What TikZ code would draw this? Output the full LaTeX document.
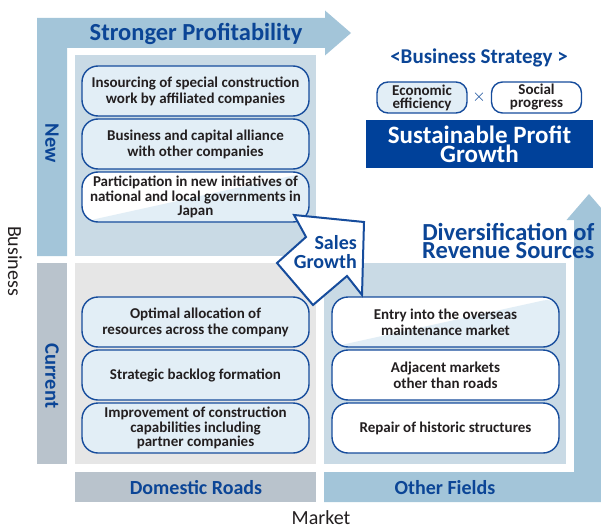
\documentclass[tikz,border=0pt]{standalone}
\usepackage{fontspec}
\setmainfont{Carlito}
\usetikzlibrary{positioning}
\definecolor{arrowblue}{HTML}{A3C5D9}
\definecolor{quadblue}{HTML}{C9DAE5}
\definecolor{graybar}{HTML}{B9C3CC}
\definecolor{quadgray}{HTML}{E6E6E6}
\definecolor{boxfill}{HTML}{E2EEF6}
\definecolor{darkblue}{HTML}{00419A}
\definecolor{titleblue}{HTML}{0B4596}
\definecolor{borderblue}{HTML}{164C9C}
\definecolor{textdark}{HTML}{231F20}
\tikzset{
  itembox/.style={rectangle, rounded corners=16pt, draw=borderblue, line width=1.4pt,
    fill=boxfill, minimum width=227pt, minimum height=50pt, inner sep=0pt, align=center,
    text=textdark, font=\bfseries\fontsize{15}{16}\selectfont},
  itemthree/.style={itembox, font=\bfseries\fontsize{15}{14.5}\selectfont},
  whitebox/.style={fill=white},
  splitbox/.style={fill=white, path picture={\fill[boxfill] (path picture bounding box.south west) -- (path picture bounding box.north east) -- (path picture bounding box.south east) -- cycle;}},
  bluetitle/.style={text=titleblue, font=\bfseries\fontsize{24.5}{18}\selectfont, inner sep=0pt, align=center},
  sidelabel/.style={text=titleblue, font=\bfseries\fontsize{20.5}{20}\selectfont, inner sep=0pt, rotate=-90},
  barlabel/.style={text=titleblue, font=\bfseries\fontsize{20}{20}\selectfont, inner sep=0pt},
  axislabel/.style={text=textdark, font=\fontsize{20}{20}\selectfont, inner sep=0pt},
  pill/.style={rectangle, rounded corners=11pt, draw=borderblue, line width=1.4pt,
    minimum width=90pt, minimum height=31pt, inner sep=0pt, align=center,
    text=textdark, font=\bfseries\fontsize{15}{13}\selectfont},
}
\begin{document}
\begin{tikzpicture}[x=1pt,y=-1pt]
\useasboundingbox (0,0) rectangle (601,529);
\begin{scope}
\clip (0,0) rectangle (601,529);
% L arrow (Stronger Profitability)
\fill[arrowblue] (37,18) -- (325,18) -- (325,10.5) -- (351,33) -- (325,55.5) -- (325,48) -- (67,48) -- (67,256) -- (37,256) -- cycle;
% right arrow (Diversification)
\fill[arrowblue] (324,472) -- (574,472) -- (574,220) -- (566.5,220) -- (589,194) -- (611.5,220) -- (604,220) -- (604,502) -- (324,502) -- cycle;
\end{scope}
% gray bars
\fill[graybar] (37,263) rectangle (67,464);
\fill[graybar] (75,472) rectangle (316,502);
% quadrants
\fill[quadblue] (75,55) rectangle (316,256);
\fill[quadgray] (75,263) rectangle (316,464);
\fill[quadblue] (324,263) rectangle (566,464);
% labels
\node[bluetitle] (strong) at (196,34) {Stronger Profitability};
\node[sidelabel] (new) at (52,143) {New};
\node[sidelabel] (current) at (52,376) {Current};
\node[barlabel] (dom) at (196,488) {Domestic Roads};
\node[barlabel] (other) at (445,488) {Other Fields};
\node[axislabel, rotate=-90] (business) at (15,261) {Business};
\node[axislabel] (market) at (321,518) {Market};
% New boxes
\node[itembox] (n1) at (195.5,91) {Insourcing of special construction\\work by affiliated companies};
\node[itembox] (n2) at (195.5,144) {Business and capital alliance\\with other companies};
\node[itemthree, splitbox] (n3) at (195.5,197) {Participation in new initiatives of\\national and local governments in\\Japan};
% Current boxes
\node[itembox] (c1) at (195.5,322) {Optimal allocation of\\resources across the company};
\node[itembox] (c2) at (195.5,375) {Strategic backlog formation};
\node[itemthree] (c3) at (195.5,428) {Improvement of construction\\capabilities including\\partner companies};
% Other boxes
\node[itembox, splitbox] (o1) at (445.5,322) {Entry into the overseas\\maintenance market};
\node[itembox, whitebox] (o2) at (445.5,375) {Adjacent markets\\other than roads};
\node[itembox, whitebox] (o3) at (445.5,428) {Repair of historic structures};
% Strategy
\node[text=titleblue, font=\bfseries\fontsize{21}{16}\selectfont, inner sep=0pt] (strat) at (479,58) {<Business Strategy >};
\node[pill, fill=boxfill] (econ) at (422,97.5) {Economic\\efficiency};
\node[pill, fill=white] (social) at (536.5,97.5) {Social\\progress};
\node[text=titleblue, font=\fontsize{18}{16}\selectfont, inner sep=0pt] (times) at (479,97) {$\times$};
\node[fill=darkblue, text=white, minimum width=227pt, minimum height=48pt, inner sep=0pt, align=center,
  font=\bfseries\fontsize{25}{17.5}\selectfont] (spg) at (479.5,144) {Sustainable Profit\\Growth};
\node[bluetitle, align=right, anchor=east] (div) at (594.5,241) {Diversification of\\Revenue Sources};
% Sales Growth arrow
\draw[draw=borderblue, line width=2pt, fill=white, line join=miter]
  (294,215) -- (364,222) -- (362,295) -- (347,276) -- (313,305) -- (277,263) -- (306,237) -- cycle;
\node[text=titleblue, font=\bfseries\fontsize{20}{19}\selectfont, inner sep=0pt, align=right, anchor=east] (sales) at (357,252.5) {Sales\\Growth};
\end{tikzpicture}
\end{document}
